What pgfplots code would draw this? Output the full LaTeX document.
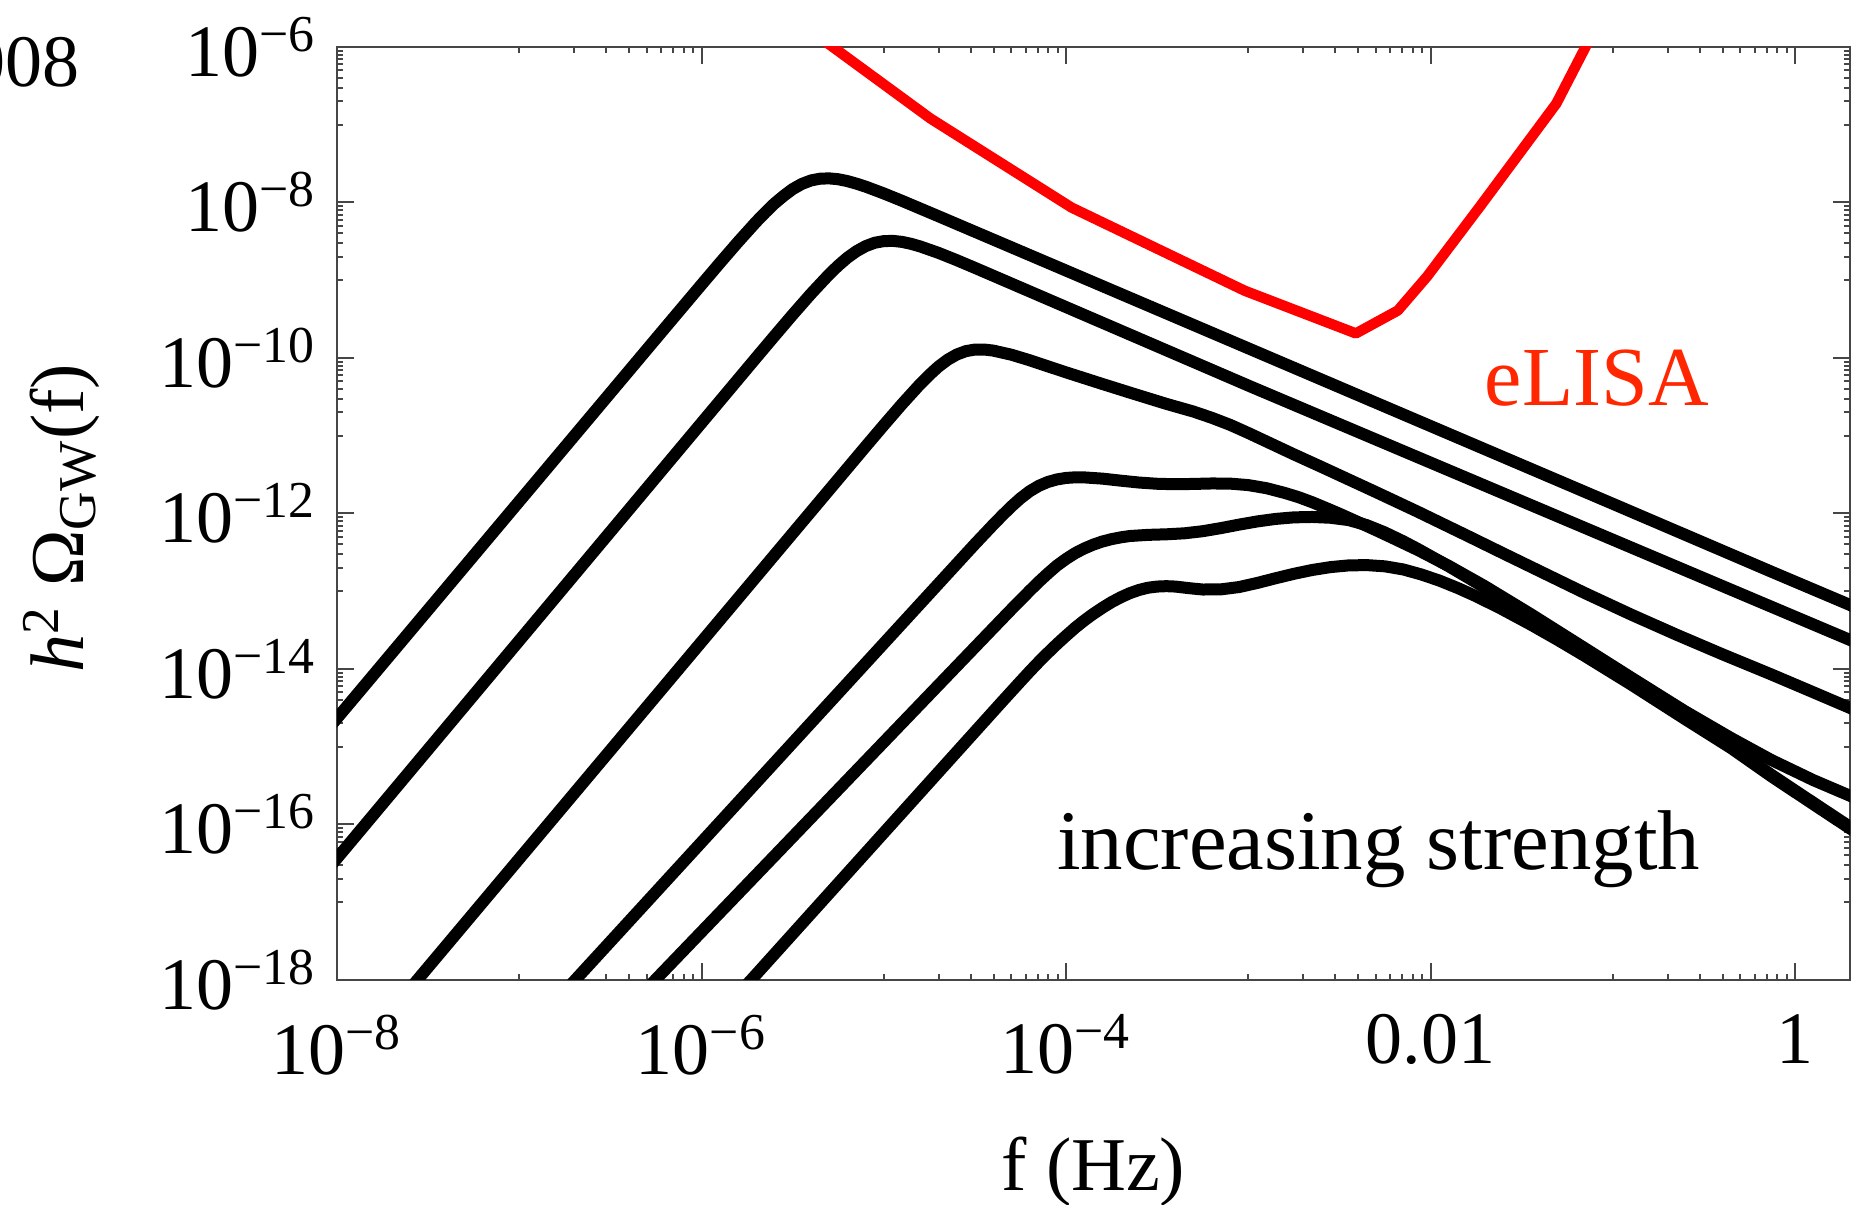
\documentclass[border=0pt]{standalone}
\usepackage{fontspec}
\setmainfont{Liberation Serif}
\usepackage{pgfplots}
\pgfplotsset{compat=1.18}
\definecolor{elisared}{RGB}{255,0,0}
\definecolor{elisatext}{RGB}{255,38,0}
\definecolor{framegray}{RGB}{70,70,70}
\newcommand{\tl}{\fontsize{18.5}{22}\selectfont}
\newcommand{\lb}{\fontsize{19}{23}\selectfont}
\begin{document}
\begin{tikzpicture}
\begin{axis}[
  scale only axis, width=378.25pt, height=233.25pt,
  xmin=-8, xmax=0.30103, ymin=-18, ymax=-6,
  axis line style={framegray, line width=0.5pt},
  tick style={framegray, line width=0.5pt},
  major tick length=4.3pt, minor tick length=1.5pt,
  xtick={-8,-6,-4,-2,0},
  xticklabels={10\textsuperscript{−8},10\textsuperscript{−6},10\textsuperscript{−4},0.01,1},
  ytick={-18,-16,-14,-12,-10,-8,-6},
  yticklabels={10\textsuperscript{−18},10\textsuperscript{−16},10\textsuperscript{−14},10\textsuperscript{−12},10\textsuperscript{−10},10\textsuperscript{−8},10\textsuperscript{−6}},
  minor xtick={-7,-6.69897,-6.52288,-6.39794,-6.30103,-6.22185,-6.15490,-6.09691,-6.04576,
               -5,-4.69897,-4.52288,-4.39794,-4.30103,-4.22185,-4.15490,-4.09691,-4.04576,
               -3,-2.69897,-2.52288,-2.39794,-2.30103,-2.22185,-2.15490,-2.09691,-2.04576,
               -1,-0.69897,-0.52288,-0.39794,-0.30103,-0.22185,-0.15490,-0.09691,-0.04576},
  minor ytick={-7,-6.69897,-6.52288,-6.39794,-6.30103,-6.22185,-6.15490,-6.09691,-6.04576,
               -9,-8.69897,-8.52288,-8.39794,-8.30103,-8.22185,-8.15490,-8.09691,-8.04576,
               -11,-10.69897,-10.52288,-10.39794,-10.30103,-10.22185,-10.15490,-10.09691,-10.04576,
               -13,-12.69897,-12.52288,-12.39794,-12.30103,-12.22185,-12.15490,-12.09691,-12.04576,
               -15,-14.69897,-14.52288,-14.39794,-14.30103,-14.22185,-14.15490,-14.09691,-14.04576,
               -17,-16.69897,-16.52288,-16.39794,-16.30103,-16.22185,-16.15490,-16.09691,-16.04576},
  tick label style={font=\tl, inner sep=0.5pt},
  xticklabel style={yshift=-8pt},
  yticklabel style={xshift=-4.5pt},
  xlabel={f (Hz)},
  ylabel={{\itshape h}\textsuperscript{2} Ω\textsubscript{GW}(f)},
  xlabel style={at={(axis description cs:0.5,-0.2058)}, anchor=center, font=\lb},
  ylabel style={at={(axis description cs:-0.182,0.495)}, anchor=center, font=\lb},
  every axis plot/.append style={line join=round},
]
% eLISA sensitivity
\addplot[elisared, line width=2.6pt] coordinates {
(-5.42,-5.76) (-5.28,-6.0) (-4.744,-6.92) (-3.97,-8.065) (-3.02,-9.135) (-2.41,-9.684)
(-2.18,-9.39) (-2.02,-8.954) (-1.73,-8.054) (-1.31,-6.727) (-1.15,-6.0) (-1.10,-5.77)};
% C1
\addplot[black, line width=3pt] coordinates {
(-8.1,-14.913) (-8,-14.634) (-6.2,-9.612) (-6.0,-9.056) (-5.9,-8.780) (-5.8,-8.509)
(-5.7,-8.249) (-5.65,-8.128) (-5.6,-8.014) (-5.55,-7.916) (-5.5,-7.828) (-5.45,-7.762)
(-5.4,-7.717) (-5.35,-7.694) (-5.3,-7.690) (-5.25,-7.701) (-5.2,-7.725) (-5.15,-7.758)
(-5.1,-7.796) (-5.0,-7.884) (-4.9,-7.979) (-4.7,-8.177) (-4.0,-8.876) (-3.0,-9.876)
(-2.0,-10.876) (-1.0,-11.876) (-0.131,-12.748) (0.3,-13.176) (0.4,-13.276)};
% C2
\addplot[black, line width=3pt] coordinates {
(-8.1,-16.715) (-8,-16.435) (-6.0,-10.835) (-5.7,-9.996) (-5.6,-9.718) (-5.5,-9.443)
(-5.4,-9.176) (-5.3,-8.925) (-5.25,-8.812) (-5.2,-8.711) (-5.15,-8.627) (-5.1,-8.562)
(-5.05,-8.518) (-5.0,-8.497) (-4.95,-8.494) (-4.9,-8.507) (-4.85,-8.532) (-4.8,-8.566)
(-4.7,-8.648) (-4.6,-8.742) (-4.5,-8.841) (-2.986,-10.369) (-0.131,-13.199)
(0.3,-13.626) (0.4,-13.725)};
% C3
\addplot[black, line width=3pt] coordinates {
(-7.666,-18.3) (-7.559,-18) (-5.1,-11.140) (-5.0,-10.864) (-4.9,-10.593) (-4.8,-10.335)
(-4.75,-10.218) (-4.7,-10.111) (-4.65,-10.023) (-4.6,-9.956) (-4.55,-9.912) (-4.5,-9.892)
(-4.45,-9.891) (-4.4,-9.905) (-4.3,-9.958) (-4.2,-10.029) (-4.0,-10.185) (-3.8,-10.335)
(-3.63,-10.46) (-3.45,-10.59) (-3.3,-10.69) (-3.2,-10.77) (-3.1,-10.86) (-3.0,-10.965)
(-2.9,-11.075) (-2.75,-11.24) (-2.6,-11.40) (-2.3,-11.725) (-2.071,-11.977)
(-1.8,-12.285) (-1.6,-12.515) (-1.35,-12.80) (-1.157,-13.02) (-0.9,-13.30)
(-0.65,-13.56) (-0.4,-13.81) (-0.131,-14.07) (0.1,-14.30) (0.3,-14.50) (0.4,-14.60)};
% C4
\addplot[black, line width=3pt] coordinates {
(-6.81,-18.3) (-6.693,-18) (-4.5,-12.393) (-4.4,-12.145) (-4.35,-12.025) (-4.3,-11.910)
(-4.25,-11.805) (-4.2,-11.715) (-4.15,-11.645) (-4.1,-11.595) (-4.05,-11.562)
(-4.0,-11.543) (-3.95,-11.535) (-3.9,-11.536) (-3.8,-11.552) (-3.7,-11.578)
(-3.6,-11.602) (-3.5,-11.618) (-3.4,-11.624) (-3.3,-11.620) (-3.2,-11.614)
(-3.1,-11.616) (-3.0,-11.635) (-2.9,-11.675) (-2.8,-11.736) (-2.725,-11.790)
(-2.65,-11.855) (-2.575,-11.928) (-2.5,-12.003) (-2.4,-12.108) (-2.3,-12.215)
(-2.2,-12.325) (-2.071,-12.469) (-1.9,-12.675) (-1.705,-12.932) (-1.45,-13.295)
(-1.156,-13.73) (-0.9,-14.11) (-0.607,-14.54) (-0.35,-14.89) (-0.131,-15.17)
(0.1,-15.43) (0.3,-15.63) (0.4,-15.73)};
% C5
\addplot[black, line width=3pt] coordinates {
(-6.375,-18.3) (-6.254,-18) (-4.4,-13.476) (-4.3,-13.233) (-4.25,-13.115)
(-4.2,-12.995) (-4.15,-12.880) (-4.1,-12.772) (-4.05,-12.670) (-4.0,-12.585)
(-3.95,-12.510) (-3.9,-12.450) (-3.85,-12.400) (-3.8,-12.360) (-3.75,-12.330)
(-3.7,-12.307) (-3.65,-12.290) (-3.55,-12.275) (-3.45,-12.268) (-3.35,-12.255)
(-3.25,-12.228) (-3.15,-12.188) (-3.05,-12.143) (-2.95,-12.102) (-2.85,-12.070)
(-2.75,-12.050) (-2.65,-12.045) (-2.55,-12.055) (-2.45,-12.085) (-2.35,-12.150)
(-2.25,-12.245) (-2.15,-12.358) (-2.071,-12.455) (-1.9,-12.680) (-1.705,-12.950)
(-1.45,-13.31) (-1.156,-13.75) (-0.9,-14.14) (-0.607,-14.61) (-0.35,-15.0)
(-0.131,-15.36) (0.1,-15.72) (0.3,-16.03) (0.4,-16.18)};
% C6
\addplot[black, line width=3pt] coordinates {
(-5.848,-18.3) (-5.728,-18) (-4.35,-14.417) (-4.25,-14.160) (-4.2,-14.033)
(-4.15,-13.910) (-4.1,-13.793) (-4.05,-13.680) (-4.0,-13.573) (-3.95,-13.470)
(-3.9,-13.376) (-3.85,-13.290) (-3.8,-13.212) (-3.75,-13.140) (-3.7,-13.078)
(-3.65,-13.025) (-3.6,-12.984) (-3.55,-12.955) (-3.5,-12.940) (-3.45,-12.935)
(-3.4,-12.940) (-3.32,-12.962) (-3.25,-12.978) (-3.15,-12.976) (-3.05,-12.946)
(-2.95,-12.893) (-2.85,-12.833) (-2.75,-12.776) (-2.65,-12.727) (-2.55,-12.690)
(-2.45,-12.668) (-2.35,-12.664) (-2.25,-12.680) (-2.15,-12.720) (-2.05,-12.785)
(-1.95,-12.865) (-1.85,-12.960) (-1.75,-13.065) (-1.613,-13.225) (-1.45,-13.43)
(-1.3,-13.63) (-1.156,-13.83) (-0.9,-14.20) (-0.607,-14.64) (-0.35,-15.02)
(-0.131,-15.38) (0.1,-15.74) (0.3,-16.05) (0.4,-16.20)};
\node[anchor=base, font=\fontsize{21.2}{25}\selectfont] at (axis cs:-2.285,-16.585) {increasing strength};
\node[anchor=base, text=elisatext, font=\fontsize{21}{25}\selectfont] at (axis cs:-1.088,-10.605) {eLISA};
\end{axis}
\node[anchor=base east, inner sep=0pt, font=\tl] at (-64.25pt,223.25pt) {2008};
\pgfresetboundingbox
\path[use as bounding box] (-84.25pt,-56.25pt) rectangle (379.75pt,245pt);
\end{tikzpicture}
\end{document}
